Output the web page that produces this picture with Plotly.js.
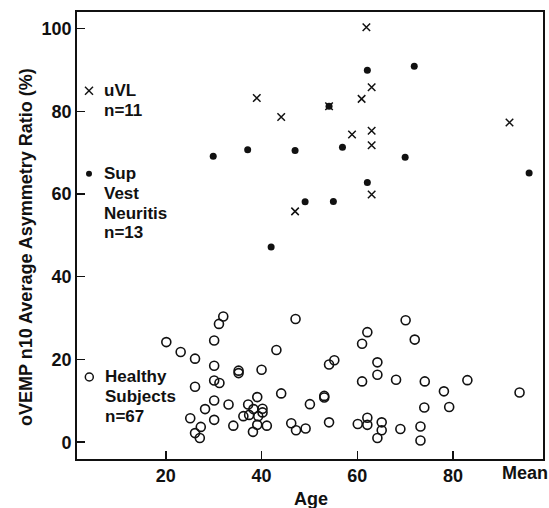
<!DOCTYPE html>
<html>
<head>
<meta charset="utf-8">
<script src="https://cdn.plot.ly/plotly-3.0.1.min.js"></script>
<style>html,body{margin:0;padding:0;background:#fff;}#chart{width:549px;height:508px;}</style>
</head>
<body>
<div id="chart"></div>
<script>
// ---- Data ----
const uvlAge = [61.9, 39.0, 44.1, 63.0, 60.9, 54.1, 58.9, 63.0, 63.0, 63.0, 47.0];
const uvlRatio = [100.3, 83.2, 78.6, 85.8, 83.0, 81.2, 74.4, 75.3, 71.8, 59.9, 55.8];
const uvlMeanX = 91.8, uvlMean = 77.3;

const supAge = [29.9, 37.1, 47.0, 54.1, 56.9, 62.1, 71.9, 70.0, 62.1, 49.1, 55.0, 42.0];
const supRatio = [69.1, 70.7, 70.5, 81.2, 71.3, 89.9, 90.9, 68.9, 62.8, 58.1, 58.2, 47.2];
const supMeanX = 95.9, supMean = 65.1;

const healthyAge = [32.0, 31.1, 20.1, 30.1, 23.1, 26.1, 30.1, 30.1, 31.2, 26.1,
  30.1, 33.1, 28.2, 25.1, 30.1, 34.1, 27.3, 26.1, 27.1,
  35.2, 35.2, 40.0, 43.1, 47.1, 44.1, 39.1, 37.2, 40.2, 38.3,
  36.2, 39.3, 40.2, 39.1, 41.1, 38.2, 46.2, 47.2, 49.2, 50.1,
  53.1, 53.1, 54.1, 55.2, 54.1, 62.1, 61.0, 70.1, 72.0, 64.2,
  64.2, 61.0, 68.1, 60.1, 62.1, 62.1, 65.1, 65.1, 64.2, 69.0,
  74.1, 78.1, 83.0, 74.0, 79.2, 73.2, 73.2, 37.4];
const healthyRatio = [30.4, 28.6, 24.2, 24.6, 21.8, 20.2, 18.5, 14.9, 14.3, 13.4,
  10.1, 9.1, 8.0, 5.8, 5.4, 4.0, 3.7, 2.2, 1.0,
  17.3, 16.7, 17.5, 22.3, 29.8, 11.8, 10.9, 9.1, 8.1, 8.0,
  6.3, 6.3, 7.2, 4.2, 4.0, 2.5, 4.6, 2.9, 3.3, 9.2,
  10.8, 11.2, 18.8, 19.8, 4.8, 26.6, 23.8, 29.5, 24.8, 19.3,
  16.3, 14.7, 15.1, 4.4, 5.9, 4.2, 4.8, 2.9, 1.0, 3.2,
  14.7, 12.3, 15.0, 8.4, 8.5, 3.8, 0.4, 6.6];
const healthyMeanX = 93.9, healthyMean = 12.0;

const xTickVals = [20, 40, 60, 80];
const yTickVals = [0, 20, 40, 60, 80, 100];
const meanLabel = "Mean";
const meanLabelX = 95.0;

const uvlLines = ["uVL", "n=11"];
const supLines = ["Sup", "Vest", "Neuritis", "n=13"];
const healthyLines = ["Healthy", "Subjects", "n=67"];

const xTitle = "Age";
const yTitle = "oVEMP n10 Average Asymmetry Ratio (%)";

// ---- Layout geometry ----
const W = 549, H = 508;
const M = {l: 77, r: 6, t: 12, b: 49};
const PW = W - M.l - M.r, PH = H - M.t - M.b;
const px = x => (x - M.l) / PW;          // pixel x -> paper
const py = y => (H - M.b - y) / PH;      // pixel y -> paper

const FONT = "Liberation Sans, Arial, Helvetica, sans-serif";
const INK = "#111";

const traces = [
  {x: uvlAge.concat([uvlMeanX]), y: uvlRatio.concat([uvlMean]), mode: 'markers', type: 'scatter',
   marker: {symbol: 'x-thin', size: 7.5, line: {width: 1.5, color: INK}, color: INK}, hoverinfo: 'skip'},
  {x: supAge.concat([supMeanX]), y: supRatio.concat([supMean]), mode: 'markers', type: 'scatter',
   marker: {symbol: 'circle', size: 7, color: INK, line: {width: 0}}, hoverinfo: 'skip'},
  {x: healthyAge.concat([healthyMeanX]), y: healthyRatio.concat([healthyMean]), mode: 'markers', type: 'scatter',
   marker: {symbol: 'circle-open', size: 9, color: INK, line: {width: 1.6, color: INK}}, hoverinfo: 'skip'}
];

const annotations = [];
const textFont = {family: FONT, size: 17, color: INK, weight: 'bold'};
function addLines(lines, y0, x0) {
  lines.forEach((t, i) => annotations.push({
    xref: 'paper', yref: 'paper', x: px(x0), y: py(y0 + i * 19.7), text: t,
    showarrow: false, xanchor: 'left', yanchor: 'middle', font: textFont
  }));
}
addLines(uvlLines, 90.7, 102);
addLines(supLines, 173.7, 102);
addLines(healthyLines, 376.7, 103);

annotations.push({xref: 'x', yref: 'paper', x: meanLabelX, y: py(473), text: meanLabel, showarrow: false,
  xanchor: 'center', yanchor: 'middle', font: {family: FONT, size: 18, color: INK, weight: 'bold'}});
annotations.push({xref: 'paper', yref: 'paper', x: px(310.5), y: py(499), text: xTitle, showarrow: false,
  xanchor: 'center', yanchor: 'middle', font: {family: FONT, size: 18, color: INK, weight: 'bold'}});
annotations.push({xref: 'paper', yref: 'paper', x: px(26), y: py(247), text: yTitle, showarrow: false,
  textangle: -90, xanchor: 'center', yanchor: 'middle', font: {family: FONT, size: 18, color: INK, weight: 'bold'}});

// legend key symbols as pixel-sized shapes
const shapes = [];
function keyX(cx, cy, s) {
  [[-s, -s, s, s], [-s, s, s, -s]].forEach(d => shapes.push({type: 'line', xref: 'paper', yref: 'paper',
    xsizemode: 'pixel', ysizemode: 'pixel', xanchor: px(cx), yanchor: py(cy),
    x0: d[0], y0: d[1], x1: d[2], y1: d[3], line: {color: INK, width: 1.4}}));
}
function keyCircle(cx, cy, r, filled) {
  shapes.push({type: 'circle', xref: 'paper', yref: 'paper', xsizemode: 'pixel', ysizemode: 'pixel',
    xanchor: px(cx), yanchor: py(cy), x0: -r, x1: r, y0: -r, y1: r,
    fillcolor: filled ? INK : 'rgba(0,0,0,0)', line: {color: INK, width: filled ? 0 : 1.5}});
}
keyX(89, 90.7, 4);
keyCircle(89, 173.7, 3, true);
keyCircle(89.3, 377, 4, false);

const layout = {
  width: W, height: H, margin: M, showlegend: false,
  paper_bgcolor: '#fff', plot_bgcolor: '#fff',
  font: {family: FONT, color: INK},
  xaxis: {range: [1.44, 98.8], tickvals: xTickVals, ticks: 'inside', ticklen: 8, tickwidth: 1.5, tickcolor: INK,
    showgrid: false, zeroline: false, showline: true, mirror: true, linecolor: INK, linewidth: 1.8,
    tickfont: {family: FONT, size: 18, color: INK, weight: 'bold'}},
  yaxis: {range: [-4.06, 104.0], tickvals: yTickVals, ticks: 'inside', ticklen: 8, tickwidth: 1.5, tickcolor: INK,
    showgrid: false, zeroline: false, showline: true, mirror: true, linecolor: INK, linewidth: 1.8,
    tickfont: {family: FONT, size: 18, color: INK, weight: 'bold'}},
  annotations: annotations, shapes: shapes
};

Plotly.newPlot('chart', traces, layout, {staticPlot: true, displayModeBar: false});
</script>
</body>
</html>
